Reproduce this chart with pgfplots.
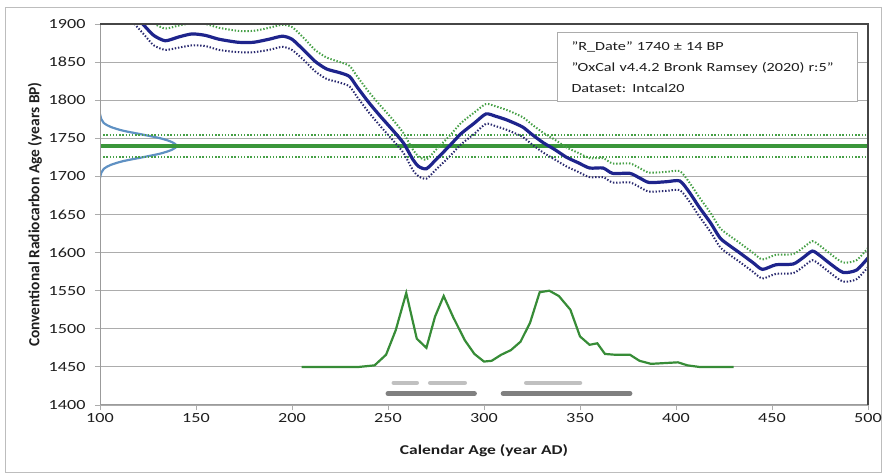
\documentclass[border=0pt]{standalone}
\usepackage{fontspec}
\setmainfont{Carlito}[FakeStretch=1.3]
\newfontfamily\plainfont{Carlito}
\usepackage{pgfplots}
\pgfplotsset{compat=1.18}
\usepackage{pgfplotstable}
\definecolor{navyc}{RGB}{30,36,140}
\definecolor{navydot}{RGB}{40,40,110}
\definecolor{gline}{RGB}{58,150,58}
\definecolor{gdot}{RGB}{70,160,70}
\definecolor{gprob}{RGB}{55,140,55}
\definecolor{gauss}{RGB}{95,145,195}
\definecolor{gridgray}{RGB}{172,172,172}
\definecolor{framedark}{RGB}{70,70,70}
\definecolor{lightbar}{RGB}{192,192,192}
\definecolor{darkbar}{RGB}{128,128,128}
\definecolor{txt}{RGB}{30,30,30}

\pgfplotstableread{
x mean up lo
110 1935 1950 1922
118 1912 1928 1900
123 1898 1913 1886
128 1885 1901 1872
134 1878 1894 1866
141 1883 1898 1869
148 1887 1901 1872
155 1885 1900 1871
162 1880 1895 1866
172 1876 1891 1863
180 1876 1891 1863
188 1880 1895 1866
195 1884 1899 1870
200 1880 1896 1866
206 1866 1882 1853
212 1851 1866 1838
218 1841 1856 1828
225 1836 1850 1823
230 1831 1845 1818
234 1817 1831 1804
240 1797 1811 1784
246 1779 1793 1766
252 1762 1776 1749
258 1744 1757 1731
263 1722 1735 1708
266 1713 1726 1700
270 1710 1722 1697
275 1722 1735 1709
282 1740 1753 1726
288 1756 1770 1742
295 1770 1784 1756
301 1782 1795 1769
306 1779 1792 1766
312 1774 1787 1761
320 1765 1778 1752
325 1755 1768 1742
331 1744 1757 1731
337 1735 1748 1722
343 1725 1738 1713
349 1718 1731 1706
355 1711 1724 1699
362 1711 1724 1699
367 1704 1717 1692
376 1704 1717 1692
381 1698 1711 1686
386 1692 1705 1680
395 1693 1706 1681
402 1694 1707 1682
407 1679 1692 1667
412 1660 1673 1648
418 1639 1652 1627
423 1619 1632 1607
428 1609 1622 1597
433 1600 1613 1588
440 1587 1600 1575
445 1578 1591 1566
452 1584 1597 1572
461 1585 1598 1573
466 1593 1606 1581
471 1602 1615 1590
475 1596 1609 1584
480 1586 1599 1574
487 1574 1587 1562
494 1577 1590 1565
500 1593 1606 1581
}\calcurve

\pgfplotstableread{
x p
205 1450
235 1450
243 1452
249 1466
254 1498
259.5 1547
265 1487
270 1475
274.5 1516
279 1543
284 1515
290 1485
295 1467
300 1457
304 1458
309 1466
314 1472
319 1483
324 1508
329 1548
334 1550
339 1543
345 1525
350 1490
355 1479
359 1481
363 1467
368 1466
376 1466
381 1458
387 1454
394 1455
401 1456
406 1452
412 1450
430 1450
}\prob

\begin{document}
\begin{tikzpicture}
\useasboundingbox (0,0) rectangle (886bp,473bp);
\draw[gridgray!80, line width=0.8bp] (5bp,1bp) rectangle (881bp,466bp);
\begin{axis}[
  at={(100bp,68bp)}, anchor=south west,
  scale only axis, width=768bp, height=381bp,
  xmin=100, xmax=500, ymin=1400, ymax=1900,
  xtick={100,150,...,500}, ytick={1400,1450,...,1900},
  ymajorgrids, grid style={line width=0.9bp, gridgray},
  axis line style={draw=none},
  tick align=outside, xtick pos=bottom, ytick pos=left,
  major tick length=5bp,
  tick style={gridgray, line width=0.9bp},
  ticklabel style={font=\fontsize{14}{16}\selectfont, text=txt},
  yticklabel style={xshift=-6bp},
  /pgf/number format/assume math mode=true,
  /pgf/number format/1000 sep={},
  xlabel={\fontsize{13.5}{16}\selectfont\bfseries Calendar Age (year AD)},
  ylabel={\plainfont\fontsize{15.5}{18}\selectfont\bfseries Conventional Radiocarbon Age (years BP)},
  xlabel style={at={(axis description cs:0.5,-0.1207)}, anchor=center, text=txt},
  ylabel style={at={(axis description cs:-0.0846,0.5)}, anchor=center, text=txt},
  clip=true,
]
% gaussian of measured date
\addplot[gauss, line width=2.2bp, smooth, tension=0.5] coordinates {
(100,1782) (100.7,1775) (102,1770) (105.5,1765) (112,1760) (122,1755) (131.5,1750) (137.5,1745) (140,1740)
(137.5,1735) (131.5,1730) (122,1725) (112,1720) (105.5,1715) (102,1710) (100.7,1705) (100,1698)};
% measured date lines
\addplot[gdot, line width=2bp, dash pattern=on 1.4bp off 1.8bp] coordinates {(100,1754) (500,1754)};
\addplot[gdot, line width=2bp, dash pattern=on 1.4bp off 1.8bp] coordinates {(100,1726) (500,1726)};
\addplot[gline, line width=3.2bp] coordinates {(100,1740) (500,1740)};
% calibration curve
\addplot[gdot, line width=2bp, dash pattern=on 1.4bp off 1.8bp, smooth, tension=0.4] table[x=x, y=up] {\calcurve};
\addplot[navydot, line width=2bp, dash pattern=on 1.4bp off 1.8bp, smooth, tension=0.4] table[x=x, y=lo] {\calcurve};
\addplot[navyc, line width=3.2bp, smooth, tension=0.4] table[x=x, y=mean] {\calcurve};
% probability distribution
\addplot[gprob, line width=2.2bp] table[x=x, y=p] {\prob};
% ranges
\addplot[lightbar, line width=4.5bp, line cap=round] coordinates {(253,1429) (265,1429)};
\addplot[lightbar, line width=4.5bp, line cap=round] coordinates {(272,1429) (290,1429)};
\addplot[lightbar, line width=4.5bp, line cap=round] coordinates {(322,1429) (350,1429)};
\addplot[darkbar, line width=5bp, line cap=round] coordinates {(250,1415) (295,1415)};
\addplot[darkbar, line width=5bp, line cap=round] coordinates {(310,1415) (376,1415)};
\end{axis}
% plot-area frame
\draw[gridgray!90!black, line width=1bp] (100bp,449bp) -- (100bp,68bp) -- (868bp,68bp);
\draw[framedark, line width=1.4bp] (100bp,449bp) -- (868bp,449bp) -- (868bp,68bp);
% info box
\node[draw=gridgray, fill=white, line width=1bp, anchor=north west,
      minimum width=300bp, minimum height=69bp, text width=272bp, align=left,
      inner xsep=14bp, text=txt,
      font=\fontsize{12.5}{21}\selectfont] at (557bp,441bp)
  {"R\_Date" 1740 ± 14 BP\\ "OxCal v4.4.2 Bronk Ramsey (2020) r:5"\\ Dataset: Intcal20};
\end{tikzpicture}
\end{document}
